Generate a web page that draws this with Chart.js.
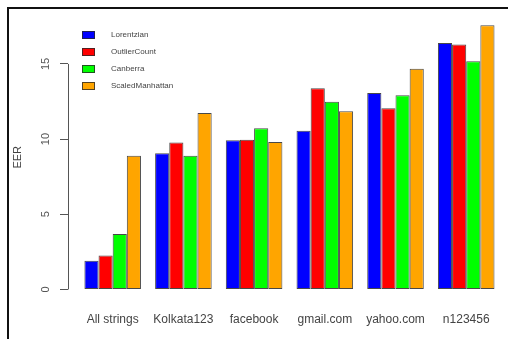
<!DOCTYPE html>
<html>
<head>
<meta charset="utf-8">
<script src="https://cdn.jsdelivr.net/npm/chart.js@4.4.1/dist/chart.umd.min.js"></script>
<style>
  html, body { margin: 0; padding: 0; background: #fff; overflow: hidden; }
  #wrap { position: relative; width: 508px; height: 339px; }
  #frame { position: absolute; left: 7px; top: 7px; right: -10px; bottom: -10px;
           border-left: 2px solid #111; border-top: 2px solid #111; pointer-events: none; }
  canvas { position: absolute; left: 0; top: 0; }
</style>
</head>
<body>
<div id="wrap">
  <canvas id="c" width="508" height="339"></canvas>
  <div id="frame"></div>
</div>
<script>
// EER per password string, one array per detector
const categories = ['All strings', 'Kolkata123', 'facebook', 'gmail.com', 'yahoo.com', 'n123456'];
const seriesNames = ['Lorentzian', 'OutlierCount', 'Canberra', 'ScaledManhattan'];
const lorentzian      = [1.91, 9.06, 9.92, 10.56, 13.07, 16.40];
const outlierCount    = [2.25, 9.77, 9.96, 13.39, 12.06, 16.29];
const canberra        = [3.69, 8.89, 10.73, 12.49, 12.92, 15.18];
const scaledManhattan = [8.89, 11.74, 9.81, 11.85, 14.68, 17.58];
const yTicks = [0, 5, 10, 15];

const seriesValues = [lorentzian, outlierCount, canberra, scaledManhattan];
const colors = ['#0000FF', '#FF0000', '#00FF00', '#FFA500'];

// y range padded 4% below zero and above the tallest bar
const yMaxData = Math.max(...seriesValues.flat());
const yPad = 0.04 * yMaxData;

const datasets = seriesNames.map((name, k) => ({
  label: name,
  data: seriesValues[k].map((v, i) => ({ x: i, y: v })),
  backgroundColor: colors[k],
  borderColor: 'rgba(40,40,40,0.85)',
  borderWidth: 1,
  borderSkipped: false,
  categoryPercentage: 0.8,
  barPercentage: 1.0
}));

// Axis line spanning only the tick range, like a base-graphics axis
const tickRangeAxis = {
  id: 'tickRangeAxis',
  afterDraw(chart) {
    const y = chart.scales.y;
    const ctx = chart.ctx;
    const x = y.right;
    ctx.save();
    ctx.strokeStyle = '#555';
    ctx.lineWidth = 1;
    ctx.beginPath();
    ctx.moveTo(x + 0.5, y.getPixelForValue(yTicks[0]));
    ctx.lineTo(x + 0.5, y.getPixelForValue(yTicks[yTicks.length - 1]));
    ctx.stroke();
    ctx.restore();
  }
};

// Boxed legend inside the plot, upper left
const insetLegend = {
  id: 'insetLegend',
  afterDraw(chart) {
    const ctx = chart.ctx;
    ctx.save();
    ctx.font = '8px "Liberation Sans", Arial, sans-serif';
    ctx.textBaseline = 'middle';
    ctx.textAlign = 'left';
    chart.data.datasets.forEach((ds, k) => {
      const cy = 35 + k * 17;
      ctx.fillStyle = ds.backgroundColor;
      ctx.fillRect(82, cy - 4, 13, 8);
      ctx.strokeStyle = 'rgba(40,40,40,0.8)';
      ctx.lineWidth = 1;
      ctx.strokeRect(82.5, cy - 3.5, 12, 7);
      ctx.fillStyle = '#444';
      ctx.fillText(ds.label, 111, cy);
    });
    ctx.restore();
  }
};

new Chart(document.getElementById('c'), {
  type: 'bar',
  data: { datasets },
  plugins: [tickRangeAxis, insetLegend],
  options: {
    responsive: false,
    animation: false,
    devicePixelRatio: 1,
    layout: { padding: { top: 5, left: 0, right: 0, bottom: 0 } },
    plugins: { legend: { display: false }, tooltip: { enabled: false } },
    scales: {
      x: {
        type: 'linear',
        offset: false,
        min: -0.632,
        max: 5.591,
        grid: { display: false, offset: false },
        border: { display: false },
        afterFit(scale) { scale.height = 39; },
        afterBuildTicks(scale) { scale.ticks = categories.map((_, i) => ({ value: i })); },
        ticks: {
          padding: 4,
          color: '#444',
          font: { family: '"Liberation Sans", Arial, sans-serif', size: 12 },
          callback: (v) => categories[v],
          maxRotation: 0,
          minRotation: 0,
          autoSkip: false
        }
      },
      y: {
        min: -yPad,
        max: yMaxData + yPad,
        afterFit(scale) { scale.width = 68; },
        afterBuildTicks(scale) { scale.ticks = yTicks.map(v => ({ value: v })); },
        grid: { display: true, drawOnChartArea: false, drawTicks: true, tickLength: 8, color: '#555' },
        border: { display: false },
        ticks: {
          color: '#555',
          font: { family: '"Liberation Sans", Arial, sans-serif', size: 11 },
          minRotation: 90,
          maxRotation: 90,
          crossAlign: 'center',
          padding: 8
        },
        title: {
          display: true,
          text: 'EER',
          color: '#444',
          font: { family: '"Liberation Sans", Arial, sans-serif', size: 11 },
          padding: { top: 11, bottom: 0 }
        }
      }
    }
  }
});
</script>
</body>
</html>
